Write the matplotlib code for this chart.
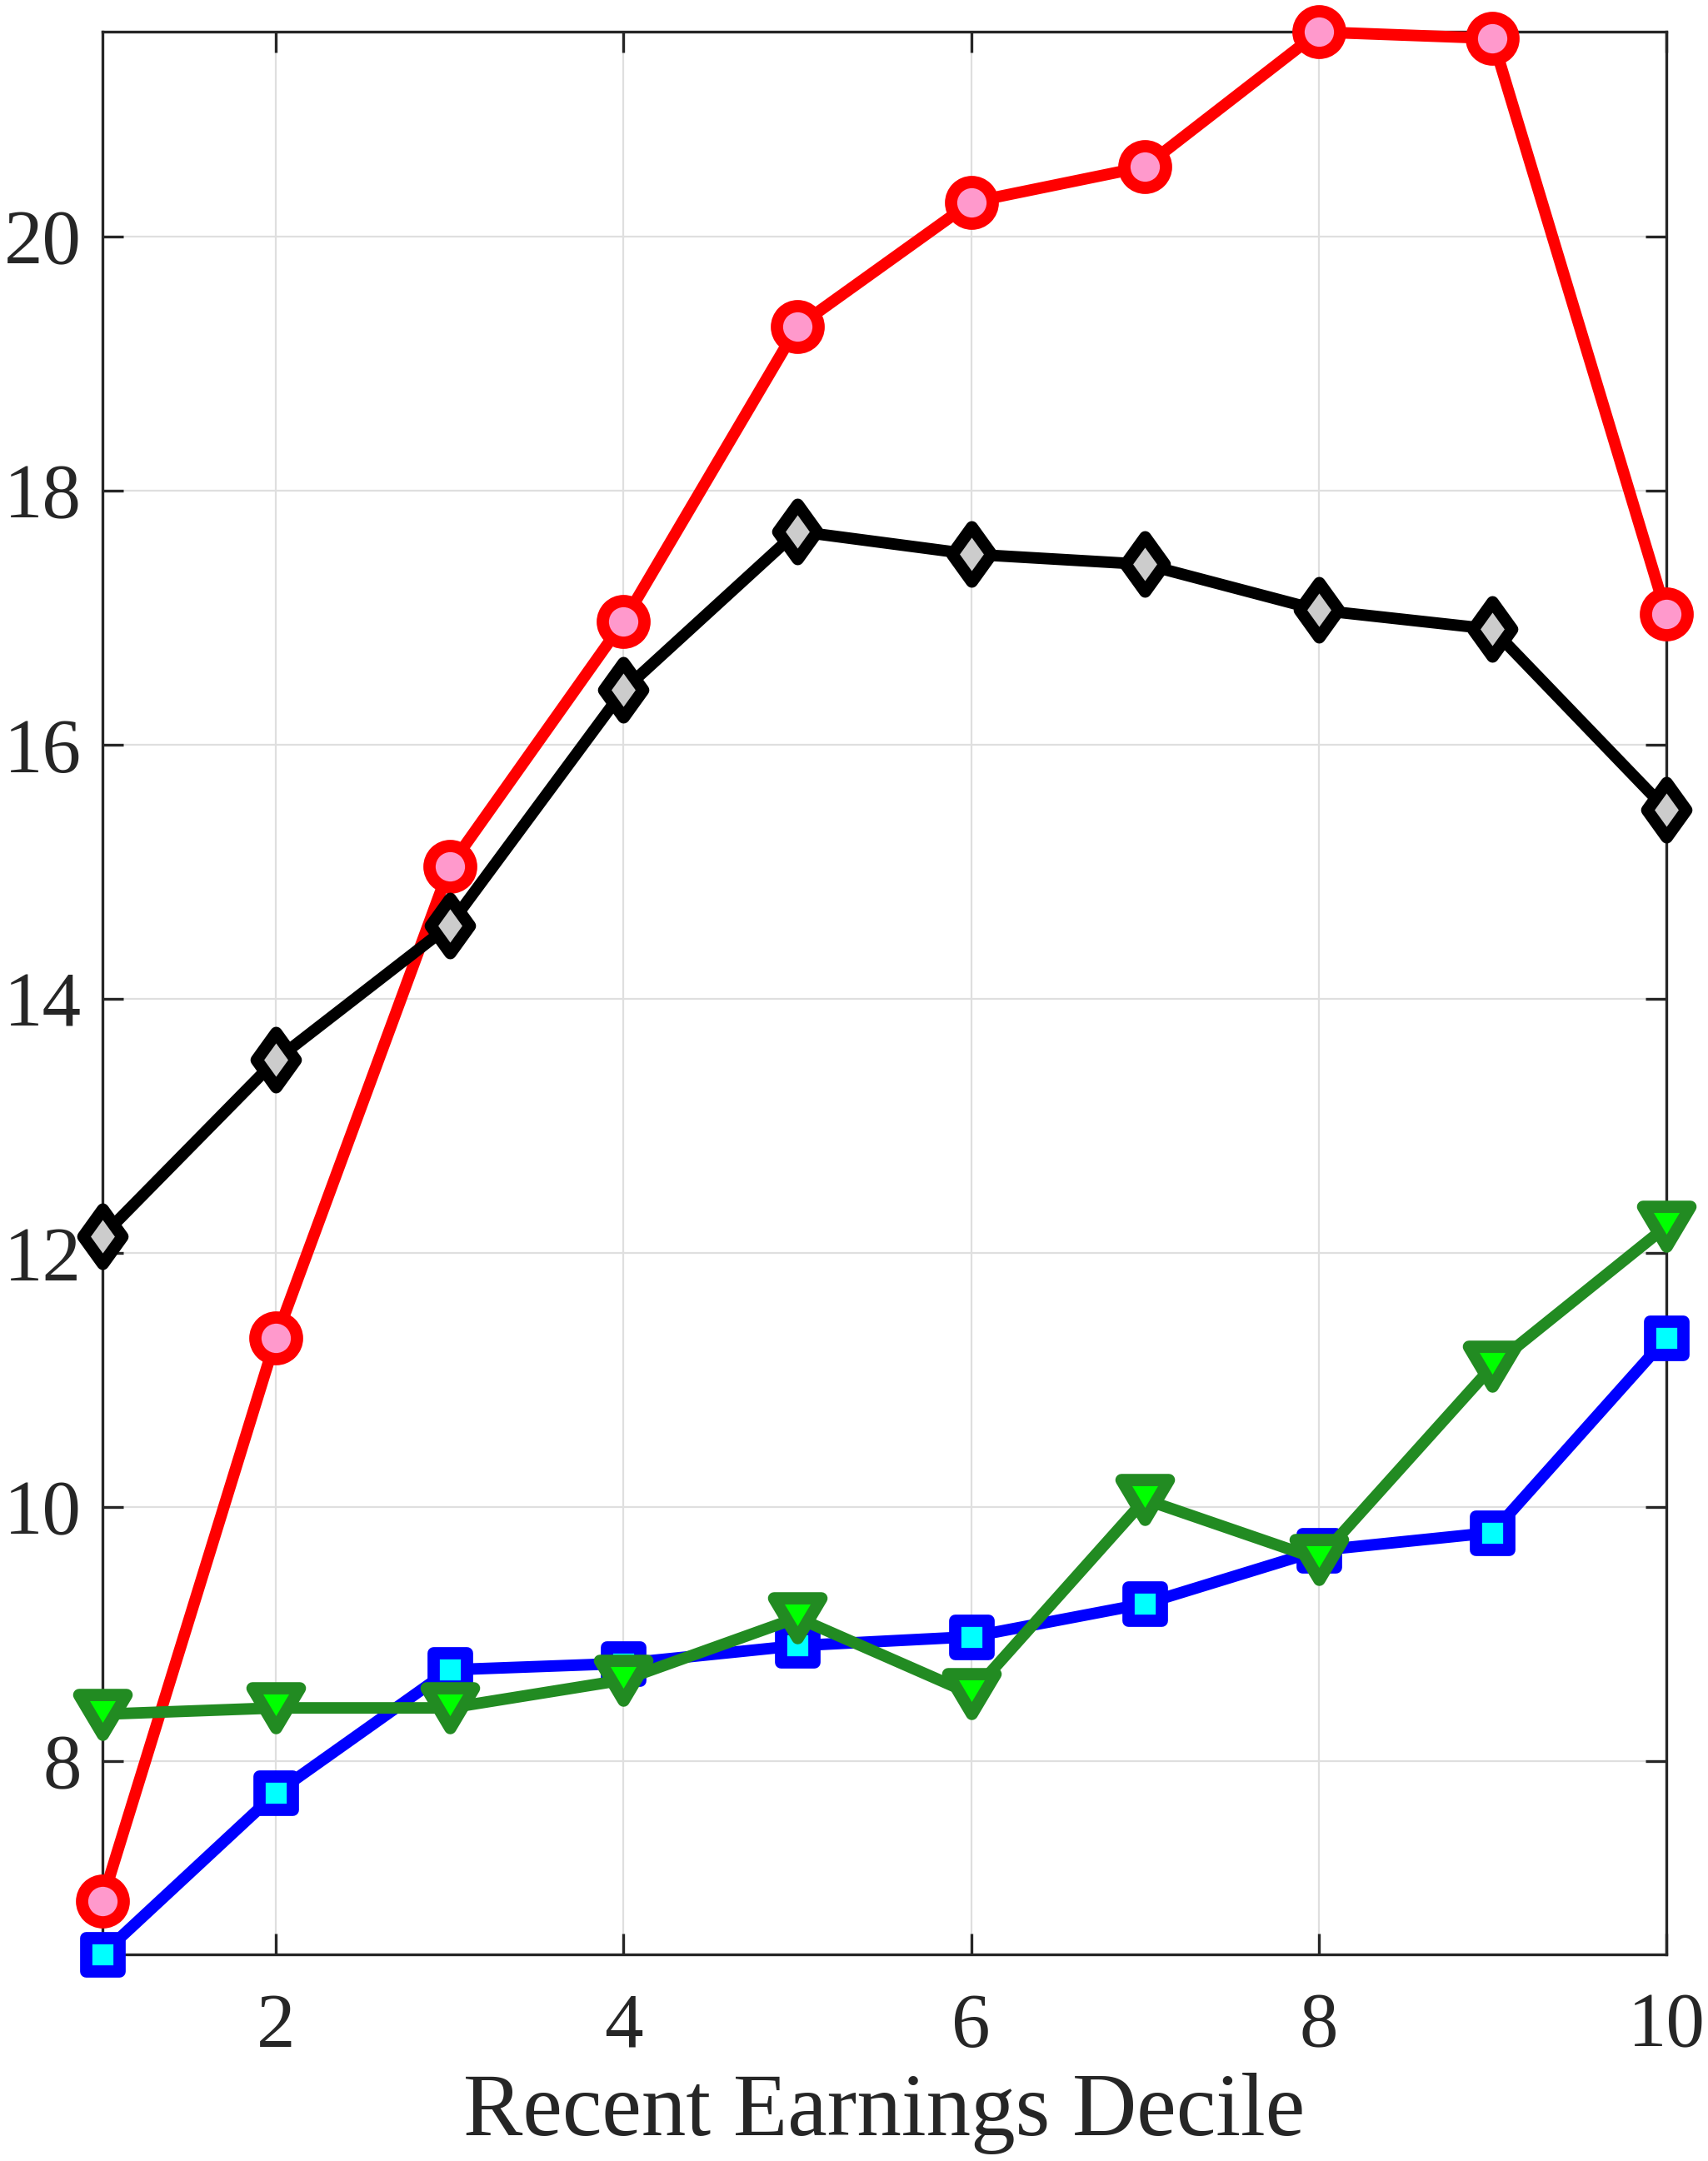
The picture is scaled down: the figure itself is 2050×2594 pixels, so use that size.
import numpy as np
import matplotlib
matplotlib.use("Agg")
import matplotlib.pyplot as plt
from matplotlib.path import Path
from matplotlib.markers import MarkerStyle

# deciles and the four series
deciles = np.arange(1, 11)
red_vals = [6.90, 11.33, 15.04, 16.97, 19.29, 20.27, 20.55, 21.61, 21.56, 17.03]
black_vals = [12.13, 13.52, 14.58, 16.43, 17.68, 17.50, 17.42, 17.06, 16.91, 15.49]
blue_vals = [6.48, 7.75, 8.72, 8.77, 8.91, 8.98, 9.24, 9.66, 9.80, 11.33]
green_vals = [8.37, 8.42, 8.42, 8.64, 9.13, 8.53, 10.06, 9.59, 11.11, 12.21]

xticks = [2, 4, 6, 8, 10]
yticks = [8, 10, 12, 14, 16, 18, 20]

plt.rcParams['font.family'] = ['Liberation Serif', 'DejaVu Serif']
axcol = '#262626'

# MATLAB-like marker shapes
tri_down = Path([(-1, 0.84), (1, 0.84), (0, -0.84), (-1, 0.84)],
                [Path.MOVETO, Path.LINETO, Path.LINETO, Path.CLOSEPOLY])
thin_diamond = Path([(0, 1), (0.72, 0), (0, -1), (-0.72, 0), (0, 1)],
                    [Path.MOVETO, Path.LINETO, Path.LINETO, Path.LINETO, Path.CLOSEPOLY])
square = MarkerStyle('s', joinstyle='round')

fig = plt.figure(figsize=(20.5, 25.94), dpi=100)
ax = fig.add_axes([0.0598, 0.0956, 0.9158, 0.8896])

lw = 10
mew = 10.6
ax.plot(deciles, red_vals, color='#FF0000', lw=lw, marker='o', ms=36,
        mfc='#FF99CC', mec='#FF0000', mew=mew, zorder=3, clip_on=False)
ax.plot(deciles, black_vals, color='black', lw=lw, marker=thin_diamond, ms=47,
        mfc='#CCCCCC', mec='black', mew=mew, zorder=4, clip_on=False)
ax.plot(deciles, blue_vals, color='#0000FF', lw=lw, marker=square, ms=29.5,
        mfc='#00FFFF', mec='#0000FF', mew=mew, zorder=5, clip_on=False)
ax.plot(deciles, green_vals, color='#228B22', lw=lw, marker=tri_down, ms=41,
        mfc='#00FF00', mec='#228B22', mew=mew, zorder=6, clip_on=False)

allv = red_vals + black_vals + blue_vals + green_vals
ax.set_xlim(1, 10)
ax.set_ylim(min(allv), max(allv))
ax.set_xticks(xticks)
ax.set_yticks(yticks)

ax.grid(True, color='#DFDFDF', lw=1.6)
ax.set_axisbelow(True)
for s in ax.spines.values():
    s.set_color(axcol)
    s.set_linewidth(2.4)

ax.tick_params(axis='both', direction='in', length=18, width=2.4, color=axcol,
               labelcolor=axcol, labelsize=67, top=True, right=True)
ax.tick_params(axis='x', pad=33)
ax.tick_params(axis='y', pad=18)

ax.set_xlabel('Recent Earnings Decile', fontsize=77, color=axcol, labelpad=8)

fig.savefig('out.png', dpi=100)
